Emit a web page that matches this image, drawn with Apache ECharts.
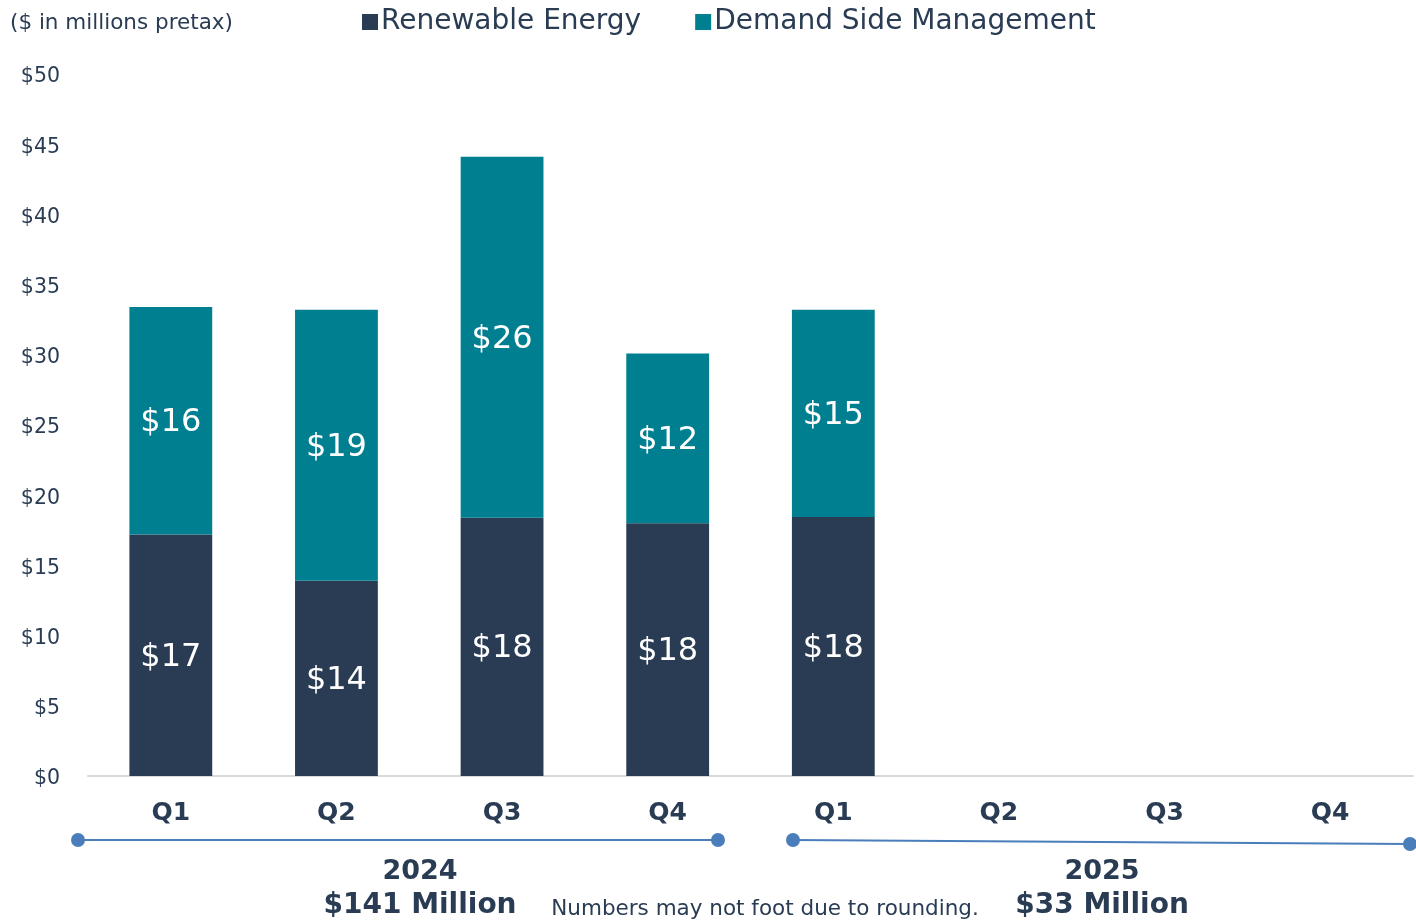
<!DOCTYPE html>
<html>
<head>
<meta charset="UTF-8">
<title></title>
<script src="https://cdn.jsdelivr.net/npm/echarts@6/dist/echarts.min.js"></script>
<style>
  html, body { margin: 0; padding: 0; background: #fff; }
</style>
</head>
<body>
<div id="main" style="width:1416px;height:922px;"></div>
<script type="text/javascript">
// quarters, 2024 then 2025
var quarters = ['Q1', 'Q2', 'Q3', 'Q4', 'Q1', 'Q2', 'Q3', 'Q4'];
var renewable = [17.2, 13.9, 18.4, 18.0, 18.45, null, null, null];
var dsm = [16.2, 19.3, 25.7, 12.1, 14.75, null, null, null];
var yTicks = { min: 0, max: 50, step: 5 };

var dark = '#293c53';
var teal = '#007f91';
var blue = '#4a7ebb';
var font = 'DejaVu Sans';

var myChart = echarts.init(document.getElementById('main'));

function segLabel() {
    return {
        show: true,
        position: 'inside',
        color: '#fff',
        fontFamily: font,
        fontSize: 32,
        offset: [0, 2],
        formatter: function (p) { return '$' + Math.round(p.value); }
    };
}

var option = {
    animation: false,
    textStyle: { fontFamily: font, color: dark },
    title: {
        text: '($ in millions pretax)',
        left: 5,
        top: 7,
        textStyle: { fontFamily: font, fontSize: 21.5, fontWeight: 'normal', color: dark }
    },
    legend: {
        left: 357,
        top: 3,
        itemWidth: 16,
        itemHeight: 16,
        itemGap: 54,
        icon: 'rect',
        textStyle: { fontFamily: font, fontSize: 28, color: dark, padding: [0, 0, 0, -2] },
        data: ['Renewable Energy', 'Demand Side Management']
    },
    grid: { left: 88, right: 3, top: 74, bottom: 146 },
    xAxis: {
        type: 'category',
        data: quarters,
        axisLine: { lineStyle: { color: '#d9d9d9', width: 2 } },
        axisTick: { show: false },
        axisLabel: { margin: 25, fontFamily: font, fontSize: 25, fontWeight: 'bold', color: dark }
    },
    yAxis: {
        type: 'value',
        min: yTicks.min,
        max: yTicks.max,
        interval: yTicks.step,
        splitLine: { show: false },
        axisLine: { show: false },
        axisTick: { show: false },
        axisLabel: {
            margin: 28, fontFamily: font, fontSize: 20.5, color: dark,
            verticalAlign: 'top', lineHeight: 6,
            formatter: function (v) { return '$' + v; }
        }
    },
    series: [{
        name: 'Renewable Energy',
        type: 'bar',
        stack: 'total',
        barWidth: '50%',
        itemStyle: { color: dark },
        label: segLabel(),
        data: renewable
    }, {
        name: 'Demand Side Management',
        type: 'bar',
        stack: 'total',
        barWidth: '50%',
        itemStyle: { color: teal },
        label: segLabel(),
        data: dsm
    }],
    graphic: [
        { type: 'line', shape: { x1: 78, y1: 840, x2: 718, y2: 840 }, style: { stroke: blue, lineWidth: 2 } },
        { type: 'circle', shape: { cx: 78, cy: 840, r: 7 }, style: { fill: blue } },
        { type: 'circle', shape: { cx: 718, cy: 840, r: 7 }, style: { fill: blue } },
        { type: 'line', shape: { x1: 793, y1: 840, x2: 1410, y2: 844 }, style: { stroke: blue, lineWidth: 2 } },
        { type: 'circle', shape: { cx: 793, cy: 840, r: 7 }, style: { fill: blue } },
        { type: 'circle', shape: { cx: 1410, cy: 844, r: 7 }, style: { fill: blue } },
        { type: 'text', x: 420, y: 872, style: { text: '2024', x: 0, y: 0, align: 'center', verticalAlign: 'middle', font: 'bold 27px "DejaVu Sans"', fill: dark } },
        { type: 'text', x: 420, y: 906, style: { text: '$141 Million', x: 0, y: 0, align: 'center', verticalAlign: 'middle', font: 'bold 28px "DejaVu Sans"', fill: dark } },
        { type: 'text', x: 1102, y: 872, style: { text: '2025', x: 0, y: 0, align: 'center', verticalAlign: 'middle', font: 'bold 27px "DejaVu Sans"', fill: dark } },
        { type: 'text', x: 1102, y: 906, style: { text: '$33 Million', x: 0, y: 0, align: 'center', verticalAlign: 'middle', font: 'bold 28px "DejaVu Sans"', fill: dark } },
        { type: 'text', x: 765, y: 909, style: { text: 'Numbers may not foot due to rounding.', x: 0, y: 0, align: 'center', verticalAlign: 'middle', font: '21.5px "DejaVu Sans"', fill: dark } }
    ]
};

myChart.setOption(option);
</script>
</body>
</html>
